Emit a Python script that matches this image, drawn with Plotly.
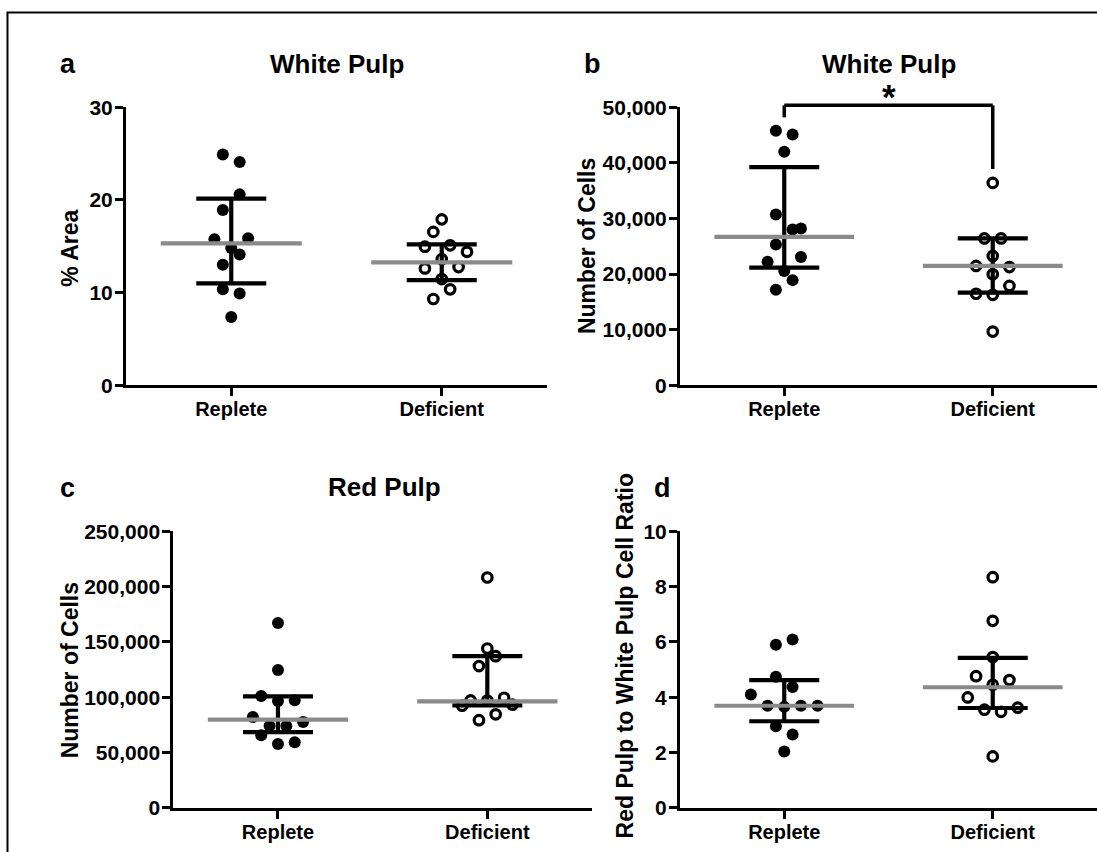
import plotly.graph_objects as go

# ---------------- data ----------------
groups = ["Replete", "Deficient"]

# panel a: White Pulp, % Area
a_rep = [24.9, 24.1, 20.6, 18.9, 15.75, 15.85, 14.8, 14.1, 13.0, 10.35, 9.9, 7.35]
a_rep_jit = [-0.04, 0.04, 0.04, -0.04, -0.08, 0.08, 0, 0.04, -0.04, -0.04, 0.04, 0]
a_def = [17.9, 16.55, 14.95, 15.1, 14.4, 13.6, 12.6, 12.75, 11.45, 10.35, 9.3]
a_def_jit = [0, -0.04, -0.08, 0.04, 0.12, 0, -0.08, 0.08, 0, 0.04, -0.04]
a_median = [15.3, 13.25]
a_q1 = [11.0, 11.35]
a_q3 = [20.15, 15.2]
a_ymax = 30

# panel b: White Pulp, Number of Cells
b_rep = [45800, 45100, 42000, 30700, 28000, 28200, 25300, 23050, 22200, 20550, 18900, 17150]
b_rep_jit = [-0.04, 0.04, 0, -0.04, 0.04, 0.08, -0.04, 0.08, -0.08, 0, 0.04, -0.04]
b_def = [36400, 26400, 26400, 23250, 21450, 21250, 19950, 17850, 16450, 16250, 9650]
b_def_jit = [0, -0.04, 0.04, 0, -0.08, 0.08, 0, 0.08, -0.08, 0, 0]
b_median = [26700, 21450]
b_q1 = [21150, 16650]
b_q3 = [39250, 26400]
b_ymax = 50000
b_bracket_top = 50350
b_bracket_left_end = 48200
b_bracket_right_end = 38900
b_star_y = 51900

# panel c: Red Pulp, Number of Cells
c_rep = [167000, 124500, 101000, 96500, 97300, 82000, 77500, 74000, 74000, 65600, 57700, 59300]
c_rep_jit = [0, 0, -0.08, 0, 0.08, -0.12, 0.12, -0.04, 0.04, -0.08, 0, 0.08]
c_def = [208200, 144000, 137100, 128100, 97100, 99500, 97000, 92300, 93200, 84500, 79200]
c_def_jit = [0, 0, 0.04, -0.04, -0.08, 0.08, 0, -0.12, 0.12, 0.04, -0.04]
c_median = [79700, 96200]
c_q1 = [68400, 92600]
c_q3 = [100700, 137100]
c_ymax = 250000

# panel d: Red Pulp to White Pulp Cell Ratio
d_rep = [5.9, 6.09, 4.74, 4.37, 4.1, 3.69, 3.65, 3.69, 3.69, 2.95, 2.65, 2.04]
d_rep_jit = [-0.04, 0.04, -0.04, 0.04, -0.16, -0.08, 0, 0.08, 0.16, -0.04, 0.04, 0]
d_def = [8.34, 6.76, 5.45, 4.76, 4.62, 4.45, 3.99, 3.55, 3.47, 3.62, 1.86]
d_def_jit = [0, 0, 0, -0.08, 0.08, 0, -0.12, -0.04, 0.04, 0.12, 0]
d_median = [3.69, 4.36]
d_q1 = [3.13, 3.61]
d_q3 = [4.62, 5.42]
d_ymax = 10

# ---------------- styling ----------------
W, H = 1097, 852
FONT = "Liberation Sans, Arial, sans-serif"
GRAY = "#8a8a8a"
MED_HALF = 0.335
CAP_PX = 35

def Y(p):
    # vertical page position (px from top) used for layout placement
    return (p - 7.85) / 0.9816

fig = go.Figure()

def add_panel(n, rep, rep_jit, dfc, dfc_jit, med, q1, q3):
    xa = "x" if n == 1 else f"x{n}"
    ya = "y" if n == 1 else f"y{n}"
    fig.add_trace(go.Scatter(
        x=[0 + j for j in rep_jit], y=rep, mode="markers", xaxis=xa, yaxis=ya,
        marker=dict(symbol="circle", size=12, color="black", line=dict(width=0)),
        cliponaxis=False, hoverinfo="y"))
    fig.add_trace(go.Scatter(
        x=[1 + j for j in dfc_jit], y=dfc, mode="markers", xaxis=xa, yaxis=ya,
        marker=dict(symbol="circle", size=9.5, color="white",
                    line=dict(width=3.2, color="black")),
        cliponaxis=False, hoverinfo="y"))
    fig.add_trace(go.Scatter(
        x=[0, 1], y=med, mode="markers", xaxis=xa, yaxis=ya,
        marker=dict(size=1, color="rgba(0,0,0,0)"),
        error_y=dict(type="data", symmetric=False,
                     array=[q3[i] - med[i] for i in range(2)],
                     arrayminus=[med[i] - q1[i] for i in range(2)],
                     width=CAP_PX, thickness=4.2, color="black"),
        hoverinfo="skip"))
    for i in range(2):
        fig.add_trace(go.Scatter(
            x=[i - MED_HALF, i + MED_HALF], y=[med[i], med[i]], mode="lines",
            xaxis=xa, yaxis=ya, line=dict(color=GRAY, width=4.2),
            hoverinfo="skip"))

add_panel(1, a_rep, a_rep_jit, a_def, a_def_jit, a_median, a_q1, a_q3)
add_panel(2, b_rep, b_rep_jit, b_def, b_def_jit, b_median, b_q1, b_q3)
add_panel(3, c_rep, c_rep_jit, c_def, c_def_jit, c_median, c_q1, c_q3)
add_panel(4, d_rep, d_rep_jit, d_def, d_def_jit, d_median, d_q1, d_q3)

# significance bracket in panel b (y in axis-domain units so it may sit above the range)
br = [(0, b_bracket_left_end, 0, b_bracket_top),
      (0, b_bracket_top, 1, b_bracket_top),
      (1, b_bracket_top, 1, b_bracket_right_end)]
for x0, y0, x1, y1 in br:
    fig.add_shape(type="line", xref="x2", yref="y2 domain",
                  x0=x0, x1=x1, y0=y0 / b_ymax, y1=y1 / b_ymax,
                  line=dict(color="black", width=3.5), layer="above")
fig.add_annotation(text="*", x=0.5, y=b_star_y / b_ymax, xref="x2", yref="y2 domain",
                   showarrow=False, xanchor="center", yanchor="middle",
                   font=dict(family=FONT, size=35, color="black", weight="bold"))

def px_x(p):
    return p / W

def px_y(p):
    return 1 - p / H

tickfont = dict(family=FONT, size=21, color="black", weight="bold")
catfont = dict(family=FONT, size=20, color="black", weight="bold")

def xaxis_cfg(x0, x1, anchor):
    return dict(domain=[px_x(x0), px_x(x1)], range=[-0.5, 1.5], anchor=anchor,
                tickvals=[0, 1], ticktext=groups, showgrid=False, zeroline=False,
                showline=True, linecolor="black", linewidth=3,
                ticks="outside", ticklen=8, tickwidth=3, tickcolor="black",
                ticklabelstandoff=-4,
                tickfont=catfont, fixedrange=True)

def yaxis_cfg(y_top, y_bot, anchor, ymax, dtick, fmt=None):
    d = dict(domain=[px_y(Y(y_bot)), px_y(Y(y_top))], range=[0, ymax], anchor=anchor,
             dtick=dtick, tick0=0, showgrid=False, zeroline=False,
             showline=True, linecolor="black", linewidth=3,
             ticks="outside", ticklen=8, tickwidth=3, tickcolor="black",
             ticklabelstandoff=-2,
             tickfont=tickfont, fixedrange=True)
    if fmt:
        d["tickformat"] = fmt
    return d

TOP1, BOT1 = 104, 384.3
TOP2, BOT2 = 531.7, 810.7

fig.update_layout(
    width=W, height=H,
    margin=dict(l=0, r=0, t=0, b=0),
    paper_bgcolor="white", plot_bgcolor="white",
    showlegend=False,
    xaxis=xaxis_cfg(126, 547, "y"),
    yaxis=yaxis_cfg(TOP1, BOT1, "x", a_ymax, 10),
    xaxis2=xaxis_cfg(680, 1097, "y2"),
    yaxis2=yaxis_cfg(TOP1, BOT1, "x2", b_ymax, 10000, ",d"),
    xaxis3=xaxis_cfg(173.3, 592, "y3"),
    yaxis3=yaxis_cfg(TOP2, BOT2, "x3", c_ymax, 50000, ",d"),
    xaxis4=xaxis_cfg(680, 1097, "y4"),
    yaxis4=yaxis_cfg(TOP2, BOT2, "x4", d_ymax, 2),
)

def ann(text, x, y, size, angle=0):
    fig.add_annotation(text=text, x=px_x(x), y=px_y(y), xref="paper", yref="paper",
                       showarrow=False, textangle=angle, xanchor="center",
                       yanchor="middle",
                       font=dict(family=FONT, size=size, color="black", weight="bold"))

# panel letters and titles
ann("a", 68, Y(65) - 5, 27)
ann("White Pulp", 337, Y(65) - 5, 26)
ann("b", 592, Y(65) - 5, 27)
ann("White Pulp", 889, Y(65) - 5, 26)
ann("c", 67, Y(491) - 3, 27)
ann("Red Pulp", 384, Y(490) - 3, 26)
ann("d", 662, Y(491) - 3, 27)

# y-axis titles
ann("% Area", 70, Y(246.7), 23, -90)
ann("Number of Cells", 587, Y(244), 23, -90)
ann("Number of Cells", 70, Y(672), 23, -90)
ann("Red Pulp to White Pulp Cell Ratio", 625, Y(658), 23, -90)

# outer frame (right and bottom edges fall outside the picture)
fig.add_shape(type="rect", xref="paper", yref="paper",
              x0=px_x(7.5), y0=-0.02, x1=1.02, y1=px_y(0.5),
              line=dict(color="black", width=2), fillcolor="rgba(0,0,0,0)",
              layer="above")

fig.write_html("out.html")
